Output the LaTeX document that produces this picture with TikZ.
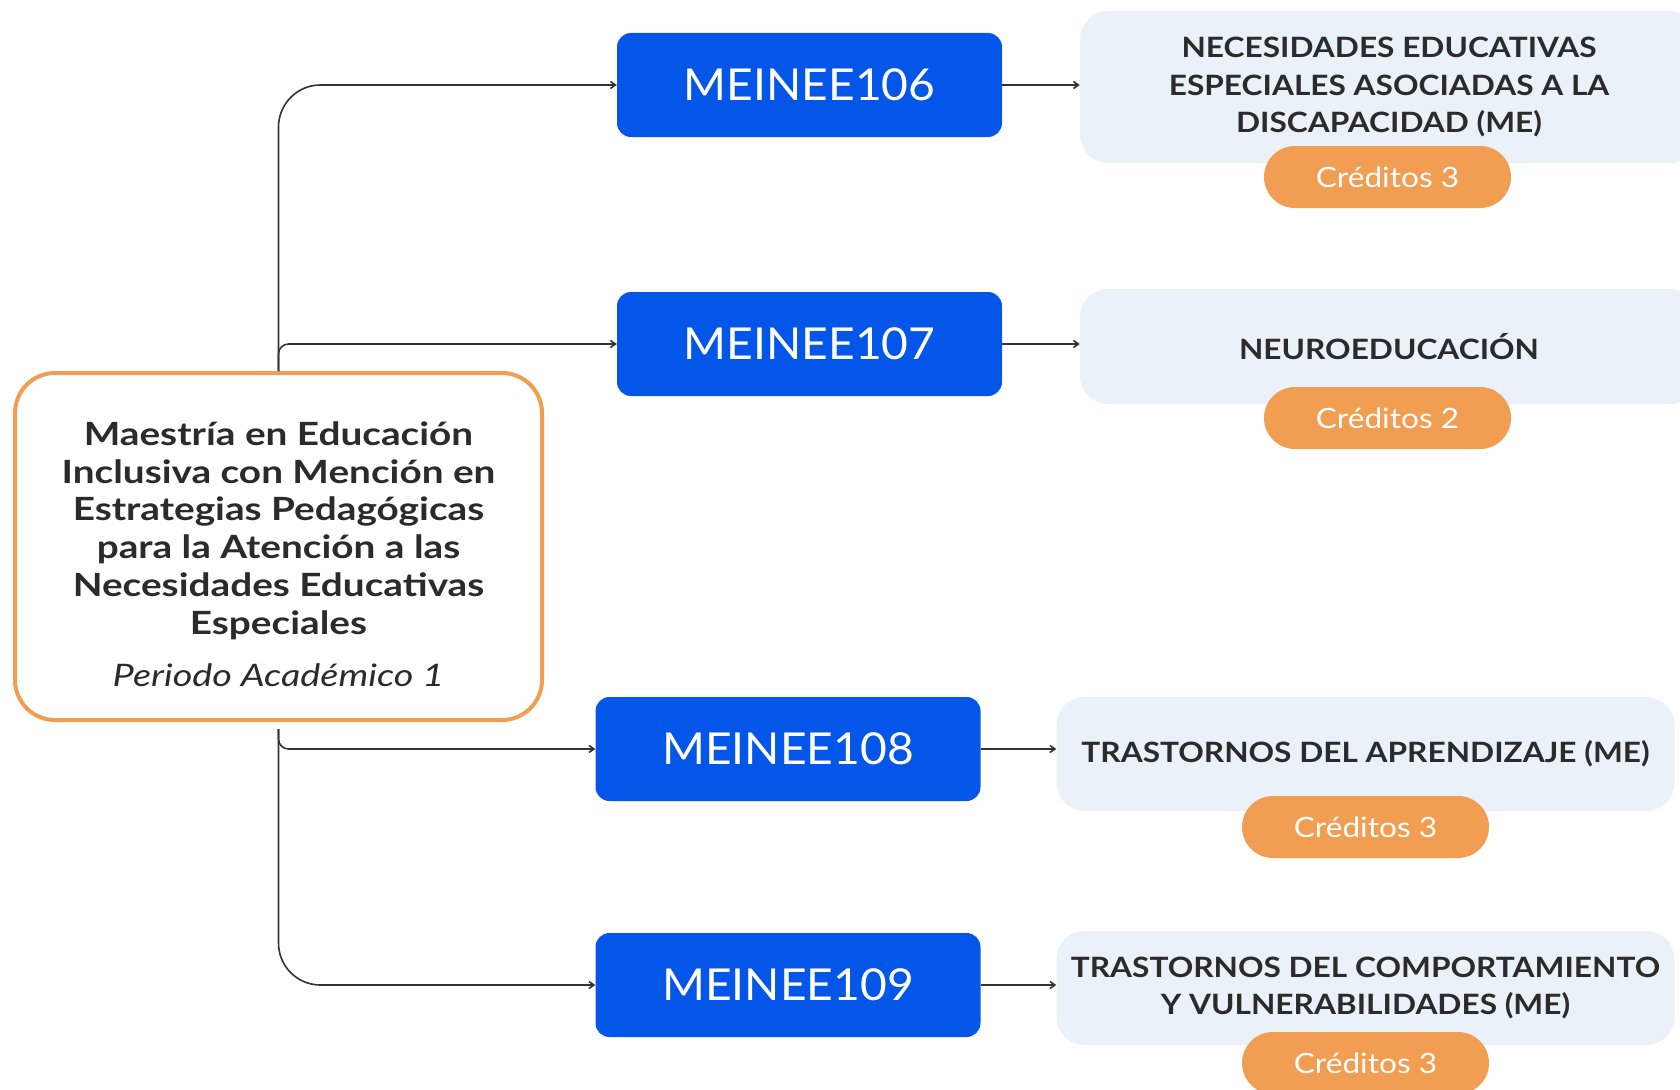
\documentclass[tikz,border=0pt]{standalone}
\usepackage{fontspec}
\setmainfont{Lato}
\newfontfamily\fmain[FakeStretch=1.21]{Lato}
\newfontfamily\fper[FakeStretch=1.22]{Lato}
\newfontfamily\fsubj[FakeStretch=1.13]{Lato}
\newfontfamily\fcode[FakeStretch=1.05]{Lato}
\usetikzlibrary{arrows.meta,positioning}
\definecolor{mblue}{HTML}{0356E8}
\definecolor{lbox}{HTML}{EAF1F8}
\definecolor{morange}{HTML}{F19D52}
\definecolor{dtext}{HTML}{2B2B2B}
\definecolor{lcol}{HTML}{333333}
\tikzset{
  codebox/.style={fill=mblue, rounded corners=14pt, minimum width=385pt, minimum height=104pt, text=white, font=\fcode\fontsize{44}{52}\selectfont, inner sep=0pt},
  subjbox/.style={fill=lbox, rounded corners=28pt, minimum width=618pt, text=dtext, font=\fsubj\bfseries\fontsize{28}{37.5}\selectfont, align=center, inner sep=0pt},
  pill/.style={fill=morange, rounded corners=31pt, minimum width=247pt, minimum height=62pt, text=white, font=\fsubj\fontsize{28}{34}\selectfont, inner sep=0pt},
  conn/.style={draw=lcol, line width=1.6pt, -{Straight Barb[length=5pt,width=7pt]}},
}
\begin{document}
\begin{tikzpicture}[x=1pt,y=-1pt]
\useasboundingbox (0,0) rectangle (1680,1089);
\clip (0,0) rectangle (1680,1089);
% main box
\node[draw=morange, line width=4pt, fill=white, rounded corners=40pt, minimum width=527pt, minimum height=347pt, inner sep=0pt] (main) at (278.5,546.5) {};
\node[text=dtext, align=center, inner sep=0pt, font=\fmain\bfseries\fontsize{32}{37.8}\selectfont] (maintext) at ([yshift=-7.5pt]main.center)
  {Maestría en Educación\\Inclusiva con Mención en\\Estrategias Pedagógicas\\para la Atención a las\\Necesidades Educativas\\Especiales\\[14pt]
   \fper\mdseries\itshape\fontsize{31}{37.8}\selectfont Periodo Académico 1};
% code boxes
\node[codebox] (c106) at (809.5,85) {MEINEE106};
\node[codebox] (c107) at (809.5,344) {MEINEE107};
\node[codebox] (c108) at (788,749) {MEINEE108};
\node[codebox] (c109) at (788,985) {MEINEE109};
% subject boxes
\node[subjbox, minimum height=152pt] (s106) at (1389,87) {NECESIDADES EDUCATIVAS\\ESPECIALES ASOCIADAS A LA\\DISCAPACIDAD (ME)};
\node[subjbox, minimum height=115pt] (s107) at (1389,346.5) {NEUROEDUCACIÓN};
\node[subjbox, minimum height=114pt] (s108) at (1365.5,754) {TRASTORNOS DEL APRENDIZAJE (ME)};
\node[subjbox, minimum height=114pt] (s109) at (1365.5,988) {TRASTORNOS DEL COMPORTAMIENTO\\Y VULNERABILIDADES (ME)};
% pills
\node[pill] (p106) at (1387.5,177) {Créditos 3};
\node[pill] (p107) at (1387.5,418) {Créditos 2};
\node[pill] (p108) at (1365.5,827) {Créditos 3};
\node[pill] (p109) at (1365.5,1063) {Créditos 3};
% connectors from main
\draw[conn, rounded corners=42pt] (main.north) |- (c106.west);
\draw[conn, rounded corners=10pt] (main.north) |- (c107.west);
\coordinate (mbot) at ([yshift=-7pt]main.south);
\draw[conn, rounded corners=10pt] (mbot) |- (c108.west);
\draw[conn, rounded corners=42pt] (mbot) |- (c109.west);
% connectors to subjects
\draw[conn] (c106.east) -- (c106.east -| s106.west);
\draw[conn] (c107.east) -- (c107.east -| s107.west);
\draw[conn] (c108.east) -- (c108.east -| s108.west);
\draw[conn] (c109.east) -- (c109.east -| s109.west);
\end{tikzpicture}
\end{document}
